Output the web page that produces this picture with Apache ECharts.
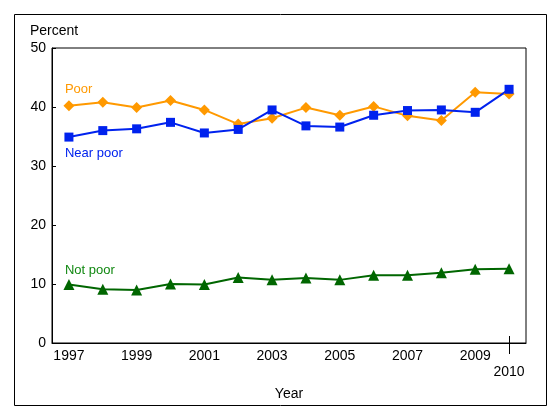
<!DOCTYPE html>
<html><head><meta charset="utf-8">
<script src="https://cdn.jsdelivr.net/npm/echarts@6/dist/echarts.min.js"></script>
<style>html,body{margin:0;padding:0;background:#fff}#c{width:560px;height:420px}</style>
</head><body><div id="c"></div>
<script>
var years = ['1997','1998','1999','2000','2001','2002','2003','2004','2005','2006','2007','2008','2009','2010'];
var poor = [40.2,40.8,39.9,41.1,39.5,37.1,38.1,39.9,38.6,40.1,38.5,37.7,42.5,42.2];
var nearPoor = [34.9,36.0,36.3,37.4,35.6,36.2,39.5,36.8,36.6,38.6,39.4,39.5,39.1,43.0];
var notPoor = [9.9,9.1,9.0,10.0,9.9,11.1,10.7,11.0,10.7,11.5,11.5,11.9,12.5,12.6];
var yTicks = [0,10,20,30,40,50];

var font = 'Liberation Sans, Arial, sans-serif';
function firstLabel(arr, text, pos, dist){
  return arr.map(function(v,i){
    if(i!==0) return v;
    return {value:v, label:{show:true, formatter:text, position:pos, align:'left', distance:dist, offset:[-4,0], fontSize:13, fontFamily:font}};
  });
}
var lastYear = years[years.length-1];
var chart = echarts.init(document.getElementById('c'));
chart.setOption({
  animation:false,
  grid:{left:52, top:48, right:34, bottom:77, show:true, borderColor:'#000', borderWidth:1},
  graphic:[{id:'frame', type:'rect', shape:{x:14.5,y:14.5,width:532,height:391}, style:{fill:'none', stroke:'#000', lineWidth:1}}],
  xAxis:{
    type:'category', data:years, boundaryGap:true,
    name:'Year', nameLocation:'middle', nameGap:44,
    nameTextStyle:{color:'#000', fontSize:14, fontFamily:font},
    axisLine:{lineStyle:{color:'#000', width:1}},
    axisTick:{inside:true, length:7, alignWithLabel:true, interval:0, lineStyle:{color:'#000'}},
    axisLabel:{interval:0, color:'#000', fontSize:14, fontFamily:font, margin:5, lineHeight:16,
      formatter:function(v){ var y=+v; if(y===2010) return '\n2010'; return (y%2===1)?v:''; }},
    splitLine:{show:false}
  },
  yAxis:{
    type:'value', min:yTicks[0], max:yTicks[yTicks.length-1], interval:10,
    name:'Percent', nameLocation:'end', nameGap:17,
    nameTextStyle:{color:'#000', fontSize:14, fontFamily:font, align:'center', verticalAlign:'middle', padding:[0,0,0,4]},
    axisLine:{show:true, lineStyle:{color:'#000'}},
    axisTick:{show:true, inside:true, length:4, lineStyle:{color:'#000'}},
    axisLabel:{color:'#000', fontSize:14, fontFamily:font, margin:6},
    splitLine:{show:false}
  },
  series:[
    {name:'Poor', type:'line', data:firstLabel(poor,'Poor','top',4), symbol:'diamond', symbolSize:11,
      itemStyle:{color:'#FF9900'}, lineStyle:{color:'#FF9900', width:2}, label:{color:'#FF9900'}},
    {name:'Near poor', type:'line', data:firstLabel(nearPoor,'Near poor','bottom',5), symbol:'rect', symbolSize:9,
      itemStyle:{color:'#0022EE'}, lineStyle:{color:'#0022EE', width:2}, label:{color:'#0022EE'}},
    {name:'Not poor', type:'line', data:firstLabel(notPoor,'Not poor','top',2), symbol:'triangle', symbolSize:11,
      itemStyle:{color:'#006600'}, lineStyle:{color:'#006600', width:2}, label:{color:'#118811'}}
  ]
});
var p = chart.convertToPixel({gridIndex:0}, [lastYear, yTicks[0]]);
var px = Math.round(p[0]) + 0.5;
chart.setOption({graphic:[{id:'tick2010', type:'line', z:100,
  shape:{x1:px, y1:p[1]-7, x2:px, y2:p[1]+11}, style:{stroke:'#000', lineWidth:1}}]});
</script></body></html>
